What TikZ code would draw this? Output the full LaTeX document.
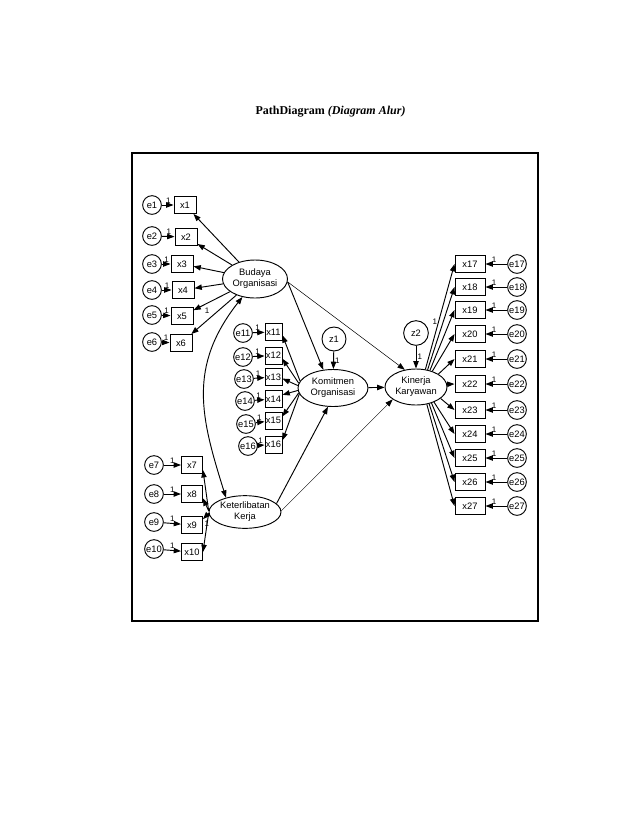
\documentclass[tikz,border=0pt]{standalone}
\usepackage{fontspec}
\setmainfont{Liberation Serif}
\setsansfont{Liberation Sans}
\usetikzlibrary{arrows.meta,shapes.geometric}

\begin{document}
\begin{tikzpicture}[x=0.75pt,y=-0.75pt,
  lat/.style={draw,ellipse,line width=0.7pt,inner sep=0pt,align=center,font=\sffamily\fontsize{7}{8.3}\selectfont},
  obs/.style={draw,rectangle,line width=0.7pt,minimum height=12.75pt,inner sep=0pt,font=\sffamily\fontsize{7}{8}\selectfont},
  err/.style={draw,circle,line width=0.7pt,minimum size=14pt,inner sep=0pt,font=\sffamily\fontsize{7}{8}\selectfont},
  one/.style={font=\sffamily\fontsize{6}{7}\selectfont,inner sep=0.8pt},
  arr/.style={-{Stealth[length=5.5pt,width=4pt,inset=0pt]},line width=0.7pt},
  thinarr/.style={arr,line width=0.35pt},
  dbl/.style={{Stealth[length=5.5pt,width=4pt,inset=0pt]}-{Stealth[length=5.5pt,width=4pt,inset=0pt]},line width=0.7pt}]
\useasboundingbox (0,0) rectangle (638,826);
\node[font=\fontsize{9}{11}\selectfont] (title) at (330.5,112) {\textbf{PathDiagram} \textbf{\textit{(Diagram Alur)}}};
\draw[line width=0.8pt] (132,153) rectangle (538,621);
% latent variables
\node[lat,minimum width=48.75pt,minimum height=28.5pt] (bo) at (255,279) {Budaya\\Organisasi};
\node[lat,minimum width=52.5pt,minimum height=27.75pt] (ko) at (333,388) {Komitmen\\Organisasi};
\node[lat,minimum width=46.5pt,minimum height=27pt] (ki) at (416,387) {Kinerja\\Karyawan};
\node[lat,minimum width=54pt,minimum height=24.5pt] (kt) at (245,512) {Keterlibatan\\Kerja};
\node[err,minimum size=18pt] (z1) at (334,339) {z1};
\node[err,minimum size=18.5pt] (z2) at (416,333) {z2};
% indicators of Budaya Organisasi
\foreach \i/\y/\ey/\xx in {1/205/205/185,2/237/236/186,3/264/264/182,4/290/290/183,5/316/315/182,6/343/342/181} {
  \node[obs,minimum width=16.5pt] (x\i) at (\xx,\y) {x\i};
  \node[err] (e\i) at (152,\ey) {e\i};
  \draw[arr] (e\i) -- node[above,one,pos=0.55]{1} (x\i);
}
\foreach \i in {1,2,3,4,6} \draw[arr] (bo) -- (x\i);
\draw[arr] (bo) -- node[below=2.5pt,one,pos=0.63]{1} (x5);
% indicators of Keterlibatan Kerja
\foreach \i/\y/\ey in {7/465/465,8/494/494,9/525/522,10/552/549} {
  \node[obs,minimum width=15.75pt] (x\i) at (192,\y) {x\i};
  \node[err] (e\i) at (154,\ey) {e\i};
  \draw[arr] (e\i) -- node[above,one,pos=0.5]{1} (x\i);
}
\draw[arr] (kt.178) -- (x7.-25);
\draw[arr] (kt.178) -- (x8.-22);
\draw[arr] (kt.182) -- node[at end,below right=0pt,one]{1} (x9.28);
\draw[arr] (kt.182) -- (x10.east);
% indicators of Komitmen Organisasi
\foreach \i/\y/\ey/\ex/\a/\b in {11/332/333/243/168/-20,12/355.5/357/243/172/-20,13/377/379/244/176/-10,14/399/401/245/184/25,15/420.5/424/246/188/25,16/444.5/446/248/190/25} {
  \node[obs,minimum width=12.75pt] (x\i) at (273.5,\y) {x\i};
  \node[err] (e\i) at (\ex,\ey) {e\i};
  \draw[arr] (e\i) -- node[above,one,pos=0.4]{1} (x\i);
  \draw[arr] (ko.\a) -- (x\i.\b);
}
% indicators of Kinerja Karyawan
\foreach \i/\y in {17/264,18/287,19/310,20/334,21/359,22/384,23/410,24/434,25/458,26/482,27/506} {
  \node[obs,minimum width=22.5pt] (x\i) at (470,\y) {x\i};
  \node[err] (e\i) at (517,\y) {e\i};
  \draw[arr] (e\i) -- node[above,one,pos=0.6]{1} (x\i);
}
\draw[arr] (ki.62) -- node[left,one,pos=0.45]{1} (x17.west);
\foreach \i/\a in {18/56,19/50,20/44,21/30,22/5,23/-25,24/-40,25/-46,26/-52,27/-58} \draw[arr] (ki.\a) -- (x\i.west);
% structural paths
\draw[arr] (bo.-5) -- (ko.118);
\draw[thinarr] (bo.-5) -- (ki.123);
\draw[arr] (kt.15) -- (ko.255);
\draw[thinarr] (kt.2) -- (ki.208);
\draw[arr] (ko) -- (ki);
\draw[arr] (z1) -- node[right,one]{1} (ko);
\draw[arr] (z2) -- node[right,one]{1} (ki);
\draw[dbl] (kt.143) .. controls +(-25,-80) and +(-55,70) .. (bo.235);
\end{tikzpicture}
\end{document}
